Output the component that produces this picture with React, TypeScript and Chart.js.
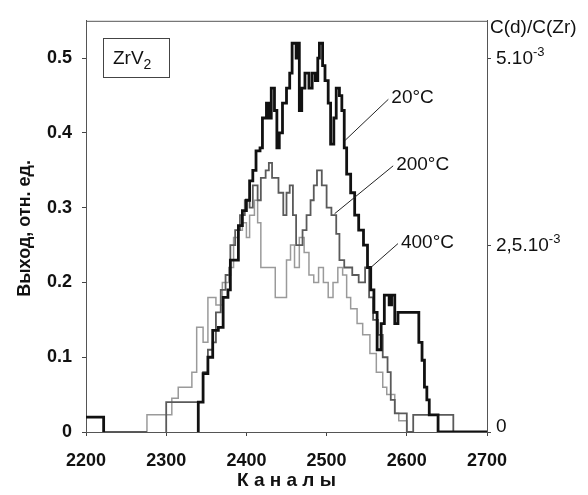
import React, { useEffect, useRef } from 'react';
import { Chart, registerables } from 'chart.js';

Chart.register(...registerables);

// ---------- data ----------
const X_TICKS = [2200, 2300, 2400, 2500, 2600, 2700];
const Y_TICKS = [0, 0.1, 0.2, 0.3, 0.4, 0.5];
const Y_TICK_LABELS = ['0', '0.1', '0.2', '0.3', '0.4', '0.5'];
const RIGHT_TICKS = [0, 0.0025, 0.005];
const RIGHT_TICK_MAIN = ['0', '2,5.10', '5.10'];
const RIGHT_TICK_SUP = ['', '-3', '-3'];

const SERIES_NAMES = ['20°C', '200°C', '400°C'];

const CH_20 = [2200, 2222, 2223, 2340, 2340, 2346, 2352, 2358, 2365, 2371, 2377, 2380, 2385, 2390, 2395, 2400, 2404, 2408, 2412, 2417, 2420, 2425, 2428, 2431, 2435, 2438, 2441, 2445, 2450, 2454, 2457, 2462, 2464, 2466, 2469, 2473, 2478, 2482, 2486, 2489, 2491, 2495, 2498, 2502, 2505, 2509, 2512, 2516, 2519, 2522, 2525, 2530, 2535, 2540, 2546, 2551, 2555, 2559, 2563, 2568, 2572, 2578, 2581, 2585, 2589, 2615, 2619, 2622, 2625, 2628, 2639, 2700];
const Y_20 = [0.02, 0, null, 0, 0.04, 0.078, 0.10, 0.136, 0.14, 0.18, 0.19, 0.23, 0.23, 0.276, 0.296, 0.31, 0.336, 0.35, 0.376, 0.38, 0.42, 0.44, 0.42, 0.46, 0.43, 0.38, 0.40, 0.44, 0.46, 0.48, 0.52, 0.50, 0.52, 0.43, 0.46, 0.48, 0.46, 0.48, 0.47, 0.50, 0.52, 0.49, 0.47, 0.44, 0.385, 0.42, 0.46, 0.45, 0.43, 0.38, 0.345, 0.32, 0.29, 0.27, 0.25, 0.22, 0.19, 0.16, 0.11, 0.145, 0.183, 0.17, 0.183, 0.145, 0.16, 0.12, 0.096, 0.06, 0.043, 0.023, 0, 0];

const CH_200 = [2222, 2276, 2277, 2300, 2300, 2346, 2352, 2358, 2362, 2368, 2374, 2380, 2386, 2392, 2398, 2404, 2408, 2414, 2418, 2424, 2428, 2432, 2440, 2446, 2450, 2454, 2458, 2462, 2470, 2475, 2480, 2484, 2488, 2494, 2500, 2506, 2512, 2516, 2522, 2532, 2540, 2548, 2553, 2558, 2564, 2570, 2576, 2580, 2585, 2600, 2608, 2658, 2700];
const Y_200 = [0, 0, null, 0, 0.04, 0.08, 0.11, 0.12, 0.16, 0.19, 0.21, 0.25, 0.27, 0.29, 0.31, 0.30, 0.33, 0.31, 0.34, 0.35, 0.36, 0.34, 0.32, 0.29, 0.32, 0.33, 0.29, 0.25, 0.27, 0.29, 0.31, 0.33, 0.35, 0.33, 0.30, 0.29, 0.265, 0.23, 0.22, 0.21, 0.20, 0.22, 0.18, 0.15, 0.13, 0.10, 0.08, 0.043, 0.025, 0, 0.023, 0, 0];

const CH_400 = [2276, 2276, 2307, 2315, 2332, 2338, 2346, 2352, 2362, 2370, 2378, 2384, 2390, 2395, 2400, 2404, 2410, 2414, 2418, 2436, 2450, 2455, 2460, 2466, 2472, 2478, 2484, 2490, 2496, 2502, 2508, 2514, 2520, 2525, 2530, 2538, 2545, 2554, 2562, 2570, 2575, 2585, 2590, 2600];
const Y_400 = [0, 0.023, 0.045, 0.06, 0.08, 0.14, 0.12, 0.18, 0.17, 0.20, 0.22, 0.26, 0.27, 0.28, 0.26, 0.29, 0.31, 0.28, 0.22, 0.18, 0.23, 0.25, 0.22, 0.26, 0.24, 0.21, 0.20, 0.22, 0.20, 0.18, 0.20, 0.22, 0.21, 0.18, 0.165, 0.145, 0.13, 0.105, 0.08, 0.06, 0.05, 0.025, 0.015, 0];

// label anchor (start of leader) and pointer end, in data units
const LABEL_START_CH = [2577, 2583, 2589];
const LABEL_START_Y = [0.445, 0.356, 0.252];
const LABEL_END_CH = [2523, 2510, 2554];
const LABEL_END_Y = [0.39, 0.292, 0.219];

const FONT = '"Liberation Sans", Arial, Helvetica, sans-serif';

const toPts = (xs: number[], ys: (number | null)[]) => xs.map((x, i) => ({ x, y: ys[i] }));

const overlay = {
  id: 'overlay',
  afterDraw(chart: any) {
    const ctx = chart.ctx as CanvasRenderingContext2D;
    const { left, right, top, bottom } = chart.chartArea;
    const xs = chart.scales.x;
    const ys = chart.scales.y;
    const y1 = chart.scales.y1;
    ctx.save();
    // top border
    ctx.strokeStyle = '#555';
    ctx.lineWidth = 1;
    ctx.beginPath();
    ctx.moveTo(left, top + 0.5);
    ctx.lineTo(right, top + 0.5);
    ctx.stroke();

    ctx.fillStyle = '#111';
    // y title
    ctx.save();
    ctx.translate(25, (top + bottom) / 2 + 2);
    ctx.rotate(-Math.PI / 2);
    ctx.font = `bold 18px ${FONT}`;
    ctx.textAlign = 'center';
    ctx.textBaseline = 'middle';
    ctx.fillText('Выход, отн. ед.', 0, 0);
    ctx.restore();

    // x title
    ctx.font = `bold 19px ${FONT}`;
    ctx.textAlign = 'center';
    ctx.textBaseline = 'middle';
    ctx.fillText('К а н а л ы', (left + right) / 2, 481);

    // right tick labels
    ctx.textAlign = 'left';
    RIGHT_TICKS.forEach((v, i) => {
      const py = y1.getPixelForValue(v);
      ctx.font = `19px ${FONT}`;
      ctx.textBaseline = 'middle';
      const main = RIGHT_TICK_MAIN[i];
      ctx.fillText(main, 496, py + (i === 0 ? -5 : 1));
      const w = ctx.measureText(main).width;
      if (RIGHT_TICK_SUP[i]) {
        ctx.font = `13px ${FONT}`;
        ctx.fillText(RIGHT_TICK_SUP[i], 496 + w, py - 6);
      }
    });
    ctx.font = `19px ${FONT}`;
    ctx.textBaseline = 'middle';
    ctx.fillText('C(d)/C(Zr)', 490, 28);

    // ZrV2 box
    ctx.strokeStyle = '#444';
    ctx.strokeRect(103.5, 38.5, 66, 39);
    ctx.font = `19px ${FONT}`;
    ctx.textBaseline = 'alphabetic';
    ctx.fillText('ZrV', 113, 64);
    const zw = ctx.measureText('ZrV').width;
    ctx.font = `14px ${FONT}`;
    ctx.fillText('2', 113 + zw, 69);

    // series labels with leaders
    ctx.strokeStyle = '#222';
    ctx.lineWidth = 1;
    SERIES_NAMES.forEach((name, i) => {
      const sx = xs.getPixelForValue(LABEL_START_CH[i]);
      const sy = ys.getPixelForValue(LABEL_START_Y[i]);
      const ex = xs.getPixelForValue(LABEL_END_CH[i]);
      const ey = ys.getPixelForValue(LABEL_END_Y[i]);
      ctx.beginPath();
      ctx.moveTo(sx, sy);
      ctx.lineTo(ex, ey);
      ctx.stroke();
      ctx.font = `19px ${FONT}`;
      ctx.textBaseline = 'alphabetic';
      ctx.fillText(name, sx + 3, sy + 4);
    });
    ctx.restore();
  },
};

export default function App() {
  const ref = useRef<HTMLCanvasElement>(null);
  useEffect(() => {
    if (!ref.current) return;
    Chart.defaults.font.family = FONT;
    const tickGrid = { display: true, drawOnChartArea: false, drawTicks: true, tickLength: 4, color: '#444' };
    const chart = new Chart(ref.current, {
      type: 'line',
      data: {
        datasets: [
          { label: SERIES_NAMES[0], data: toPts(CH_20, Y_20), borderColor: '#111', borderWidth: 2.8, stepped: 'before', pointRadius: 0, spanGaps: false, fill: false },
          { label: SERIES_NAMES[1], data: toPts(CH_200, Y_200), borderColor: '#5a5a5a', borderWidth: 1.8, stepped: 'before', pointRadius: 0, spanGaps: false, fill: false },
          { label: SERIES_NAMES[2], data: toPts(CH_400, Y_400), borderColor: '#9a9a9a', borderWidth: 1.5, stepped: 'before', pointRadius: 0, spanGaps: false, fill: false },
        ],
      },
      options: {
        animation: false,
        responsive: false,
        devicePixelRatio: 1,
        layout: { padding: { top: 19, left: 0, right: 0, bottom: 0 } },
        plugins: { legend: { display: false }, tooltip: { enabled: false }, title: { display: false } },
        scales: {
          x: {
            type: 'linear',
            min: 2200,
            max: 2700,
            grid: tickGrid,
            border: { display: true, color: '#555', width: 1 },
            afterBuildTicks: (s: any) => { s.ticks = X_TICKS.map((v) => ({ value: v })); },
            afterFit: (s: any) => { s.height = 63; },
            ticks: {
              callback: (v: any) => String(v),
              font: { size: 18, weight: 'bold', family: FONT },
              color: '#111',
              padding: 14,
              maxRotation: 0,
            },
          },
          y: {
            type: 'linear',
            position: 'left',
            min: 0,
            max: 0.55,
            grid: tickGrid,
            border: { display: true, color: '#555', width: 1 },
            afterBuildTicks: (s: any) => { s.ticks = Y_TICKS.map((v) => ({ value: v })); },
            afterFit: (s: any) => { s.width = 86; },
            ticks: {
              callback: (_v: any, i: number) => Y_TICK_LABELS[i],
              font: { size: 18, weight: 'bold', family: FONT },
              color: '#111',
              padding: 10,
            },
          },
          y1: {
            type: 'linear',
            position: 'right',
            min: 0,
            max: 0.0055,
            grid: tickGrid,
            border: { display: true, color: '#555', width: 1 },
            afterBuildTicks: (s: any) => { s.ticks = RIGHT_TICKS.map((v) => ({ value: v })); },
            afterFit: (s: any) => { s.width = 101; },
            ticks: { display: false },
          },
        },
      },
      plugins: [overlay],
    });
    return () => chart.destroy();
  }, []);
  return (
    <div style={{ position: 'absolute', left: 0, top: 0, width: 588, height: 495, background: '#fff' }}>
      <canvas ref={ref} width={588} height={495} style={{ display: 'block', width: 588, height: 495 }} />
    </div>
  );
}
